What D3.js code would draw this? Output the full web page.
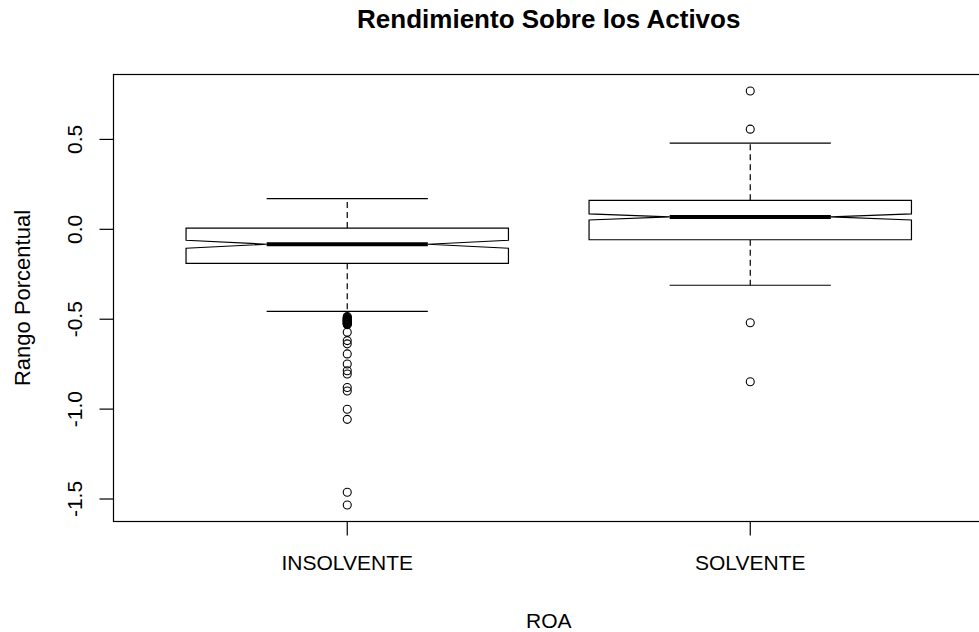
<!DOCTYPE html>
<html>
<head>
  <meta charset="utf-8">
  <script src="https://d3js.org/d3.v7.min.js"></script>
  <style>
    body { margin: 0; background: #fff; }
    text { font-family: Arial, "Liberation Sans", sans-serif; fill: #000; }
    .frame { fill: none; stroke: #000; stroke-width: 1.2px; }
    .box { fill: #fff; stroke: #000; stroke-width: 1.2px; }
    .whisker { stroke: #000; stroke-width: 1.2px; stroke-dasharray: 6,4; }
    .staple { stroke: #000; stroke-width: 1.2px; }
    .median { stroke: #000; stroke-width: 4px; }
    .outlier { fill: none; stroke: #000; stroke-width: 1.1px; }
  </style>
</head>
<body>
  <svg id="chart" width="979" height="632"></svg>
  <script>
    // data
    const groups = ["INSOLVENTE", "SOLVENTE"];
    const q1 = [-0.189, -0.058];
    const medians = [-0.083, 0.069];
    const q3 = [0.007, 0.161];
    const whiskerLo = [-0.456, -0.311];
    const whiskerHi = [0.171, 0.479];
    const notchHalf = [0.022, 0.017];
    const outliersInsolvente = [-0.485, -0.49, -0.494, -0.498, -0.50, -0.503, -0.506, -0.509, -0.512,
                                -0.515, -0.518, -0.521, -0.524, -0.527, -0.53,
                                -0.572, -0.619, -0.637, -0.693, -0.749, -0.787, -0.805,
                                -0.880, -0.899, -1.001, -1.057, -1.462, -1.533];
    const outliersSolvente = [0.769, 0.557, -0.520, -0.848];
    const yTicks = [-1.5, -1.0, -0.5, 0.0, 0.5];

    const outliers = [outliersInsolvente, outliersSolvente];

    const svg = d3.select("#chart");
    const plot = { left: 113.5, right: 984, top: 74.5, bottom: 521.5 };

    // R style range: data extent padded by 4%
    const allVals = d3.merge([whiskerLo, whiskerHi, outliersInsolvente, outliersSolvente]);
    const ext = d3.extent(allVals);
    const pad = (ext[1] - ext[0]) * 0.04;

    const x = d3.scaleLinear().domain([0.42, 2.58]).range([plot.left, plot.right]);
    const y = d3.scaleLinear().domain([ext[0] - pad, ext[1] + pad]).range([plot.bottom, plot.top]);

    const boxWidth = 0.8;   // in x units
    const data = groups.map((g, i) => ({
      name: g, pos: i + 1,
      q1: q1[i], med: medians[i], q3: q3[i],
      lo: whiskerLo[i], hi: whiskerHi[i],
      nlo: medians[i] - notchHalf[i], nhi: medians[i] + notchHalf[i],
      out: outliers[i]
    }));

    const g = svg.append("g");

    data.forEach(d => {
      const xl = x(d.pos - boxWidth / 2), xr = x(d.pos + boxWidth / 2);
      const xnl = x(d.pos - boxWidth / 4), xnr = x(d.pos + boxWidth / 4);
      const xc = x(d.pos);

      // dashed whiskers
      g.append("line").attr("class", "whisker")
        .attr("x1", xc).attr("x2", xc).attr("y1", y(d.q3)).attr("y2", y(d.hi));
      g.append("line").attr("class", "whisker")
        .attr("x1", xc).attr("x2", xc).attr("y1", y(d.q1)).attr("y2", y(d.lo));

      // staples
      [d.lo, d.hi].forEach(v => {
        g.append("line").attr("class", "staple")
          .attr("x1", xnl).attr("x2", xnr).attr("y1", y(v)).attr("y2", y(v));
      });

      // notched box
      const pts = [
        [xl, y(d.q1)], [xr, y(d.q1)], [xr, y(d.nlo)], [xnr, y(d.med)], [xr, y(d.nhi)],
        [xr, y(d.q3)], [xl, y(d.q3)], [xl, y(d.nhi)], [xnl, y(d.med)], [xl, y(d.nlo)]
      ];
      g.append("path").attr("class", "box")
        .attr("d", d3.line()(pts) + "Z");

      // median
      g.append("line").attr("class", "median")
        .attr("x1", xnl).attr("x2", xnr).attr("y1", y(d.med)).attr("y2", y(d.med));

      // outliers
      g.selectAll(null).data(d.out).join("circle")
        .attr("class", "outlier")
        .attr("cx", xc).attr("cy", v => y(v)).attr("r", 4);
    });

    // frame
    svg.append("rect").attr("class", "frame")
      .attr("x", plot.left).attr("y", plot.top)
      .attr("width", plot.right - plot.left).attr("height", plot.bottom - plot.top);

    // y axis
    yTicks.forEach(t => {
      svg.append("line").attr("stroke", "#000").attr("stroke-width", 1.2)
        .attr("x1", plot.left - 14).attr("x2", plot.left)
        .attr("y1", y(t)).attr("y2", y(t));
      svg.append("text")
        .attr("transform", `translate(82,${y(t)}) rotate(-90)`)
        .attr("text-anchor", "middle")
        .style("font-size", "21px")
        .text(t.toFixed(1));
    });

    // x axis
    data.forEach(d => {
      svg.append("line").attr("stroke", "#000").attr("stroke-width", 1.2)
        .attr("x1", x(d.pos)).attr("x2", x(d.pos))
        .attr("y1", plot.bottom).attr("y2", plot.bottom + 14);
      svg.append("text")
        .attr("x", x(d.pos)).attr("y", 570)
        .attr("text-anchor", "middle")
        .style("font-size", "21px")
        .text(d.name);
    });

    const cx = (plot.left + plot.right) / 2;
    const cy = (plot.top + plot.bottom) / 2;

    svg.append("text")
      .attr("x", cx).attr("y", 28)
      .attr("text-anchor", "middle")
      .style("font-size", "26px").style("font-weight", "bold")
      .text("Rendimiento Sobre los Activos");

    svg.append("text")
      .attr("x", cx).attr("y", 628)
      .attr("text-anchor", "middle")
      .style("font-size", "21px")
      .text("ROA");

    svg.append("text")
      .attr("transform", `translate(30,${cy}) rotate(-90)`)
      .attr("text-anchor", "middle")
      .style("font-size", "22px")
      .text("Rango Porcentual");
  </script>
</body>
</html>
